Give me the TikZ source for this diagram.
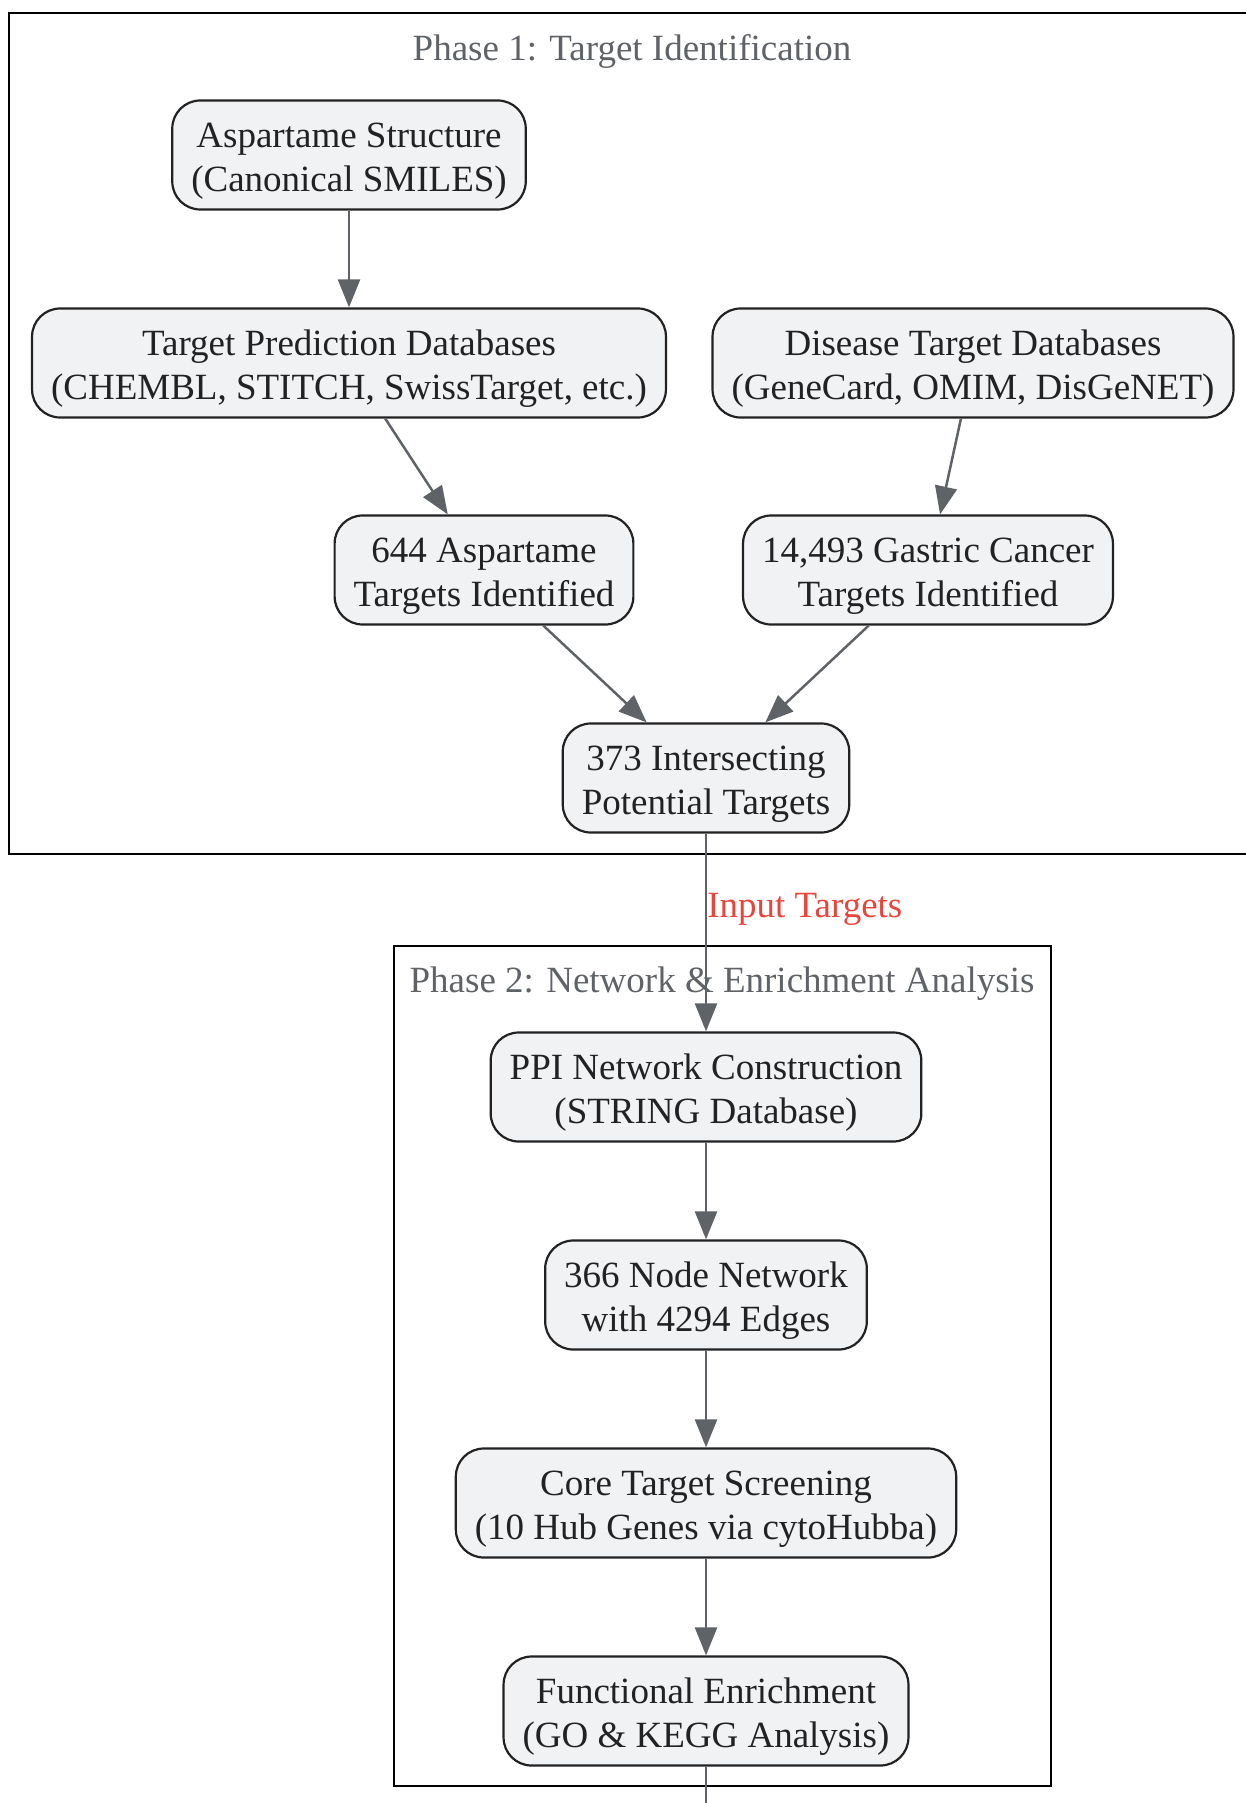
\documentclass[tikz,border=0pt]{standalone}
\usepackage{fontspec}
\setmainfont{Liberation Serif}
\usetikzlibrary{arrows.meta}
\definecolor{nodefill}{HTML}{F1F2F4}
\definecolor{nodeline}{HTML}{222222}
\definecolor{edgegray}{HTML}{5F6368}
\definecolor{labelred}{HTML}{E8453C}

\begin{document}
\begin{tikzpicture}[x=1pt,y=-1pt,
			box/.style={draw=nodeline,fill=nodefill,line width=2.2pt,rounded corners=28pt,minimum height=109pt,inner xsep=19pt,text height=80pt,align=center,text=nodeline,font=\fontsize{37}{44}\selectfont},
			flow/.style={draw=edgegray,line width=2.5pt,-{Triangle[length=28pt,width=22pt]}},
			phase/.style={draw=black,line width=2.5pt},
			phasetitle/.style={text=edgegray,font=\fontsize{37}{44}\selectfont}]
			\useasboundingbox (0,0) rectangle (1246,1803);
			\clip (0,0) rectangle (1246,1803);
			% phase frames
			\draw[phase] (9,13) rectangle (1262,854);
			\draw[phase] (394,946) rectangle (1051,1786);
			\node[phasetitle] (titleone) at (632,51) {Phase 1: Target Identification};
			\node[phasetitle] (titletwo) at (722,984) {Phase 2: Network \& Enrichment Analysis};
			% phase 1
			\node[box] (struct) at (349,155) {Aspartame Structure\\(Canonical SMILES)};
			\node[box] (preddb) at (349,363) {Target Prediction Databases\\(CHEMBL, STITCH, SwissTarget, etc.)};
			\node[box] (diseasedb) at (973,363) {Disease Target Databases\\(GeneCard, OMIM, DisGeNET)};
			\node[box] (asptargets) at (484,570) {644 Aspartame\\Targets Identified};
			\node[box] (gctargets) at (928,570) {14,493 Gastric Cancer\\Targets Identified};
			\node[box] (inter) at (706,778) {373 Intersecting\\Potential Targets};
			% phase 2
			\node[box] (ppi) at (706,1087) {PPI Network Construction\\(STRING Database)};
			\node[box] (network) at (706,1295) {366 Node Network\\with 4294 Edges};
			\node[box] (core) at (706,1503) {Core Target Screening\\(10 Hub Genes via cytoHubba)};
			\node[box] (enrich) at (706,1711) {Functional Enrichment\\(GO \& KEGG Analysis)};
			\coordinate (exit) at (706,1840);
			% connectors
			\draw[flow] (struct) -- (preddb);
			\draw[flow] (preddb) -- (asptargets);
			\draw[flow] (diseasedb) -- (gctargets);
			\draw[flow] (asptargets) -- (inter);
			\draw[flow] (gctargets) -- (inter);
			\draw[flow] (inter) -- node[pos=0.385,anchor=west,inner sep=0pt,text=labelred,font=\fontsize{37}{44}\selectfont] (inputlabel) {Input Targets} (ppi);
			\draw[flow] (ppi) -- (network);
			\draw[flow] (network) -- (core);
			\draw[flow] (core) -- (enrich);
			\draw[flow] (enrich) -- (exit);
		\end{tikzpicture}
\end{document}
